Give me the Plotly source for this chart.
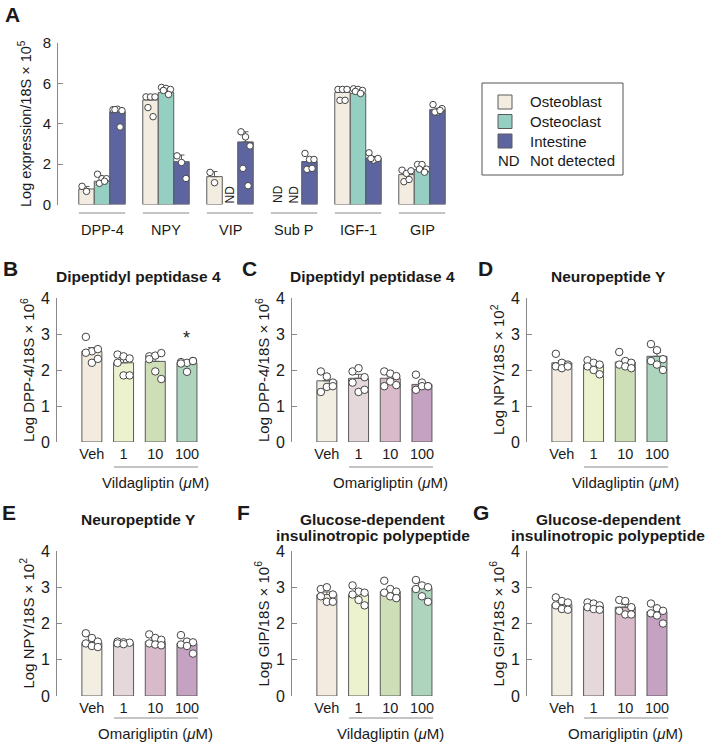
import numpy as np
import plotly.graph_objects as go

# ---------------- DATA ----------------
GENES = ["DPP-4", "NPY", "VIP", "Sub P", "IGF-1", "GIP"]
TISSUES = ["Osteoblast", "Osteoclast", "Intestine"]

A_MEAN_OB = [0.77, 5.18, 1.38, None, 5.55, 1.48]
A_MEAN_OC = [1.15, 5.55, None, None, 5.50, 1.73]
A_MEAN_IN = [4.60, 2.12, 3.10, 2.13, 2.30, 4.70]

A_PTS_OB = [[0.90, 0.65], [5.33, 5.33, 5.33, 4.80, 4.35], [1.59, 1.08], [],
            [5.70, 5.70, 5.70, 5.16, 5.16], [1.70, 1.54, 1.67, 1.13, 1.24]]
A_PTS_OC = [[1.50, 1.28, 1.28, 1.05, 1.15], [5.80, 5.75, 5.70, 5.65, 5.45], [], [],
            [5.73, 5.70, 5.65, 5.60, 5.50], [1.98, 1.98, 1.75, 1.75, 1.60]]
A_PTS_IN = [[4.70, 4.72, 4.65, 4.70, 3.84], [2.41, 2.08, 1.29], [3.60, 3.35, 2.90, 1.79, 0.93],
            [2.53, 2.23, 2.23, 1.74, 1.79], [2.56, 2.20, 2.28, 2.28], [4.95, 4.58, 4.75, 4.58, 4.66]]

DOSES = ["Veh", "1", "10", "100"]

B_MEAN = [2.52, 2.20, 2.24, 2.20]
B_PTS = [[2.92, 2.52, 2.58, 2.48, 2.20, 2.31], [2.43, 2.38, 2.32, 2.20, 1.85, 1.85],
         [2.38, 2.40, 2.47, 2.30, 1.96, 1.75], [2.22, 2.20, 2.25, 2.18, 1.95, 2.25]]
C_MEAN = [1.70, 1.77, 1.77, 1.60]
C_PTS = [[1.96, 1.82, 1.65, 1.39, 1.53, 1.55], [1.96, 2.05, 1.80, 1.65, 1.39, 1.45],
         [1.96, 1.90, 1.83, 1.55, 1.68, 1.58], [1.87, 1.65, 1.55, 1.45, 1.55, 1.55]]
D_MEAN = [2.20, 2.15, 2.22, 2.38]
D_PTS = [[2.45, 2.20, 2.15, 2.10, 2.05, 2.10], [2.27, 2.20, 2.15, 2.10, 2.00, 1.88],
         [2.50, 2.25, 2.20, 2.15, 2.10, 2.05], [2.72, 2.55, 2.30, 2.25, 2.15, 2.00]]
E_MEAN = [1.47, 1.47, 1.50, 1.45]
E_PTS = [[1.73, 1.60, 1.50, 1.45, 1.38, 1.35], [1.50, 1.48, 1.47, 1.45, 1.43],
         [1.70, 1.60, 1.55, 1.45, 1.42, 1.40], [1.68, 1.50, 1.48, 1.42, 1.38, 1.17]]
F_MEAN = [2.80, 2.80, 2.88, 2.98]
F_PTS = [[2.95, 3.00, 2.80, 2.75, 2.60, 2.60], [3.05, 2.88, 2.85, 2.80, 2.65, 2.50],
         [3.18, 2.95, 2.88, 2.85, 2.75, 2.70], [3.20, 3.05, 3.00, 2.95, 2.75, 2.60]]
G_MEAN = [2.53, 2.47, 2.45, 2.33]
G_PTS = [[2.72, 2.62, 2.58, 2.50, 2.40, 2.38], [2.58, 2.55, 2.50, 2.45, 2.40, 2.38],
         [2.65, 2.62, 2.45, 2.35, 2.25, 2.25], [2.55, 2.42, 2.35, 2.28, 2.22, 2.00]]

# ---------------- STYLE ----------------
W, H = 709, 746
FONT = "Liberation Sans, Arial, Helvetica, sans-serif"
TXT = "#1a1a1a"
AXC = "#8a8a8a"
EDGE = "#5a5a5a"
A_COLORS = ["#F3ECE0", "#94CFC2", "#5E64A0"]
VILDA = ["#F3EBE0", "#EDF2CE", "#CEDFB8", "#AED4BE"]
OMARI = ["#F3EEE2", "#E4D8DA", "#D8BACB", "#C5A2C2"]


def fx(p):
    return p / W


def fy(p):
    return 1 - p / H


def sem(v):
    v = np.asarray(v, float)
    if len(v) < 2:
        return 0.0
    return float(np.std(v, ddof=1) / np.sqrt(len(v)))


fig = go.Figure()
ann = []
shapes = []

# ---------------- PANEL A ----------------
BW_A = 0.242
JIT_A = [-0.07, 0.0, 0.07, -0.04, 0.04, 0.0]
means_A = [A_MEAN_OB, A_MEAN_OC, A_MEAN_IN]
pts_A = [A_PTS_OB, A_PTS_OC, A_PTS_IN]
for ti in range(3):
    xs = [gi + (ti - 1) * BW_A for gi in range(len(GENES))]
    errs = [sem(p) if len(p) else 0 for p in pts_A[ti]]
    fig.add_trace(go.Bar(
        x=xs, y=means_A[ti], width=BW_A, xaxis="x", yaxis="y",
        marker=dict(color=A_COLORS[ti], line=dict(color=EDGE, width=1)),
        error_y=dict(type="data", array=errs, arrayminus=[0] * len(errs), symmetric=False,
                     color=EDGE, thickness=1, width=3),
        showlegend=False, hoverinfo="skip"))
    px_, py_ = [], []
    for gi, plist in enumerate(pts_A[ti]):
        for k, v in enumerate(plist):
            px_.append(xs[gi] + JIT_A[k % len(JIT_A)])
            py_.append(v)
    fig.add_trace(go.Scatter(
        x=px_, y=py_, mode="markers", xaxis="x", yaxis="y", cliponaxis=False,
        marker=dict(symbol="circle", size=6.5, color="white", line=dict(color="#444", width=1)),
        showlegend=False, hoverinfo="skip"))

# ND labels
for ti in range(3):
    for gi in range(len(GENES)):
        if means_A[ti][gi] is None:
            ann.append(dict(x=gi + (ti - 1) * BW_A, y=0.5, xref="x", yref="y", text="ND",
                            textangle=-90, showarrow=False, font=dict(size=12, color=TXT),
                            xanchor="center", yanchor="middle"))

# group underlines and labels
for gi, g in enumerate(GENES):
    shapes.append(dict(type="line", xref="x", yref="paper", x0=gi - 1.5 * BW_A, x1=gi + 1.5 * BW_A,
                       y0=fy(213), y1=fy(213), line=dict(color=AXC, width=1)))
    ann.append(dict(x=gi, y=fy(230), xref="x", yref="paper", text=g, showarrow=False,
                    font=dict(size=14.5, color=TXT), xanchor="center", yanchor="middle"))

layout_axes = {}
layout_axes["xaxis"] = dict(domain=[fx(58), fx(455)], range=[(58 - 102) / 64, (455 - 102) / 64],
                            showgrid=False, zeroline=False, showticklabels=False, showline=False,
                            anchor="y", fixedrange=True)
layout_axes["yaxis"] = dict(domain=[fy(204.5), fy(43)], range=[0, 8], tickvals=[0, 2, 4, 6, 8],
                            showgrid=False, zeroline=False, showline=True, linecolor=AXC, linewidth=1,
                            ticks="inside", ticklen=5, tickcolor=AXC, ticklabelstandoff=3,
                            tickfont=dict(size=15, color=TXT), anchor="x")
ann.append(dict(x=fx(25), y=fy(124), xref="paper", yref="paper",
                text="Log expression/18S × 10<sup>5</sup>", textangle=-90, showarrow=False,
                font=dict(size=14.5, color=TXT), xanchor="center", yanchor="middle"))
ann.append(dict(x=fx(12), y=fy(14), xref="paper", yref="paper", text="<b>A</b>", showarrow=False,
                font=dict(size=21, color=TXT), xanchor="center", yanchor="middle"))

# legend box
shapes.append(dict(type="rect", xref="paper", yref="paper", x0=fx(482), x1=fx(623), y0=fy(83), y1=fy(175),
                   line=dict(color="#555", width=1), fillcolor="white"))
for ti, t in enumerate(TISSUES):
    yc = 102 + ti * 19.5
    shapes.append(dict(type="rect", xref="paper", yref="paper", x0=fx(498), x1=fx(512),
                       y0=fy(yc + 7), y1=fy(yc - 7), line=dict(color=EDGE, width=1),
                       fillcolor=A_COLORS[ti]))
    ann.append(dict(x=fx(528), y=fy(yc), xref="paper", yref="paper", text=t, showarrow=False,
                    font=dict(size=15, color=TXT), xanchor="left", yanchor="middle"))
ann.append(dict(x=fx(496), y=fy(160.5), xref="paper", yref="paper", text="ND", showarrow=False,
                font=dict(size=15, color=TXT), xanchor="left", yanchor="middle"))
ann.append(dict(x=fx(528), y=fy(160.5), xref="paper", yref="paper", text="Not detected", showarrow=False,
                font=dict(size=15, color=TXT), xanchor="left", yanchor="middle"))

# ---------------- PANELS B-G ----------------
panels = [
    dict(letter="B", title=["Dipeptidyl peptidase 4"], ylab="Log DPP-4/18S × 10<sup>6</sup>",
         drug="Vildagliptin", colors=VILDA, mean=B_MEAN, pts=B_PTS, ax=57, row=2, lx=10),
    dict(letter="C", title=["Dipeptidyl peptidase 4"], ylab="Log DPP-4/18S × 10<sup>6</sup>",
         drug="Omarigliptin", colors=OMARI, mean=C_MEAN, pts=C_PTS, ax=292, row=2, lx=249),
    dict(letter="D", title=["Neuropeptide Y"], ylab="Log NPY/18S × 10<sup>2</sup>",
         drug="Vildagliptin", colors=VILDA, mean=D_MEAN, pts=D_PTS, ax=527, row=2, lx=485),
    dict(letter="E", title=["Neuropeptide Y"], ylab="Log NPY/18S × 10<sup>2</sup>",
         drug="Omarigliptin", colors=OMARI, mean=E_MEAN, pts=E_PTS, ax=57, row=3, lx=9),
    dict(letter="F", title=["Glucose-dependent", "insulinotropic polypeptide"], ylab="Log GIP/18S × 10<sup>6</sup>",
         drug="Vildagliptin", colors=VILDA, mean=F_MEAN, pts=F_PTS, ax=292, row=3, lx=243),
    dict(letter="G", title=["Glucose-dependent", "insulinotropic polypeptide"], ylab="Log GIP/18S × 10<sup>6</sup>",
         drug="Omarigliptin", colors=OMARI, mean=G_MEAN, pts=G_PTS, ax=527, row=3, lx=481),
]
ROWS = {2: dict(y0=442, y4=298, letter=268, title=[276], tline=467, dlab=482),
        3: dict(y0=696, y4=551, letter=512, title=[519, 535], tline=718, dlab=733)}
UNIT = 31.7
XMIN = -1.1
XMAX = 3.6
BW = 0.63
JIT = [-0.19, 0.0, 0.19, -0.19, 0.0, 0.19]

for i, p in enumerate(panels):
    n = i + 2
    xa, ya = f"x{n}", f"y{n}"
    r = ROWS[p["row"]]
    errs = [sem(v) for v in p["pts"]]
    fig.add_trace(go.Bar(
        x=list(range(len(DOSES))), y=p["mean"], width=BW, xaxis=xa, yaxis=ya,
        marker=dict(color=p["colors"], line=dict(color=EDGE, width=1)),
        error_y=dict(type="data", array=errs, arrayminus=[0] * len(errs), symmetric=False,
                     color=EDGE, thickness=1, width=4),
        showlegend=False, hoverinfo="skip"))
    px_, py_ = [], []
    for di, plist in enumerate(p["pts"]):
        for k, v in enumerate(plist):
            px_.append(di + JIT[k % len(JIT)])
            py_.append(v)
    fig.add_trace(go.Scatter(
        x=px_, y=py_, mode="markers", xaxis=xa, yaxis=ya, cliponaxis=False,
        marker=dict(symbol="circle", size=7.5, color="white", line=dict(color="#444", width=1)),
        showlegend=False, hoverinfo="skip"))

    x0p = p["ax"]
    x1p = x0p + (XMAX - XMIN) * UNIT
    layout_axes[f"xaxis{n}"] = dict(domain=[fx(x0p), fx(x1p)], range=[XMIN, XMAX],
                                    tickvals=list(range(len(DOSES))), ticktext=DOSES, ticks="",
                                    showgrid=False, zeroline=False, showline=False,
                                    tickfont=dict(size=14.5, color=TXT), anchor=ya, fixedrange=True,
                                    ticklabelstandoff=1)
    layout_axes[f"yaxis{n}"] = dict(domain=[fy(r["y0"]), fy(r["y4"])], range=[0, 4], tickvals=[0, 1, 2, 3, 4],
                                    showgrid=False, zeroline=False, showline=True, linecolor=AXC, linewidth=1,
                                    ticks="inside", ticklen=5, tickcolor=AXC, ticklabelstandoff=3,
                                    tickfont=dict(size=16, color=TXT), anchor=xa)
    # treatment line + label
    shapes.append(dict(type="line", xref=xa, yref="paper", x0=1 - 0.3, x1=3 + 0.35,
                       y0=fy(r["tline"]), y1=fy(r["tline"]), line=dict(color=AXC, width=1)))
    ann.append(dict(x=2.02, y=fy(r["dlab"]), xref=xa, yref="paper",
                    text=p["drug"] + " (<i>μ</i>M)", showarrow=False,
                    font=dict(size=15, color=TXT), xanchor="center", yanchor="middle"))
    # title (one annotation per line, tight line spacing as in the reference)
    tc = x0p + 81
    if len(p["title"]) == 1:
        ann.append(dict(x=fx(tc), y=fy(r["title"][0]), xref="paper", yref="paper",
                        text="<b>" + p["title"][0] + "</b>", showarrow=False,
                        font=dict(size=15.5, color=TXT), xanchor="center", yanchor="middle"))
    else:
        for li, line in enumerate(p["title"]):
            ann.append(dict(x=fx(tc), y=fy(r["title"][li]), xref="paper", yref="paper",
                            text="<b>" + line + "</b>", showarrow=False,
                            font=dict(size=15.5, color=TXT), xanchor="center", yanchor="middle"))
    # y label
    ann.append(dict(x=fx(x0p - 30), y=fy((r["y0"] + r["y4"]) / 2), xref="paper", yref="paper",
                    text=p["ylab"], textangle=-90, showarrow=False,
                    font=dict(size=15, color=TXT), xanchor="center", yanchor="middle"))
    # panel letter
    ann.append(dict(x=fx(p["lx"]), y=fy(r["letter"]), xref="paper", yref="paper",
                    text="<b>" + p["letter"] + "</b>", showarrow=False,
                    font=dict(size=21, color=TXT), xanchor="center", yanchor="middle"))

# significance asterisk on panel B
ann.append(dict(x=3, y=2.9, xref="x2", yref="y2", text="*", showarrow=False,
                font=dict(size=18, color=TXT), xanchor="center", yanchor="middle"))

fig.update_layout(
    width=W, height=H, margin=dict(l=0, r=0, t=0, b=0, autoexpand=False),
    paper_bgcolor="white", plot_bgcolor="rgba(0,0,0,0)",
    font=dict(family=FONT, color=TXT), barmode="overlay",
    annotations=ann, shapes=shapes, showlegend=False,
    **layout_axes)

fig.write_html("out.html")
